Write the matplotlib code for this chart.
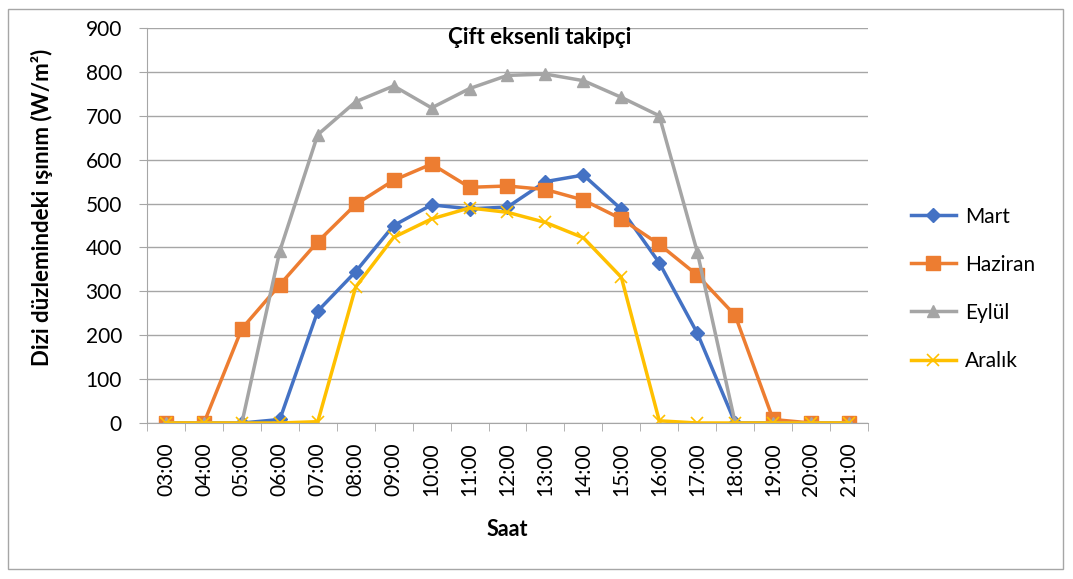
import numpy as np
import matplotlib.pyplot as plt
from matplotlib.patches import Rectangle

saatler = ['03:00', '04:00', '05:00', '06:00', '07:00', '08:00', '09:00', '10:00', '11:00', '12:00',
           '13:00', '14:00', '15:00', '16:00', '17:00', '18:00', '19:00', '20:00', '21:00']
mart = [0, 0, 0, 8, 255, 345, 450, 497, 488, 492, 550, 565, 487, 365, 205, 0, 0, 0, 0]
haziran = [0, 0, 215, 315, 413, 498, 553, 590, 537, 540, 532, 508, 465, 407, 337, 245, 8, 0, 0]
eylul = [0, 0, 0, 392, 657, 732, 768, 718, 762, 792, 795, 780, 742, 700, 390, 0, 0, 0, 0]
aralik = [0, 0, 0, 0, 3, 310, 423, 465, 490, 480, 457, 422, 332, 5, 0, 0, 0, 0, 0]

plt.rcParams['font.family'] = ['Lato', 'DejaVu Sans']

fig = plt.figure(figsize=(10.73, 5.79), dpi=100)
ax = fig.add_axes([147/1073, 1-423/579, (868-147)/1073, (423-28)/579])

x = np.arange(len(saatler))
ax.plot(x, mart, color='#4472C4', lw=2.5, marker='D', ms=7, label='Mart')
ax.plot(x, haziran, color='#ED7D31', lw=2.5, marker='s', ms=10, label='Haziran')
ax.plot(x, eylul, color='#A5A5A5', lw=2.5, marker='^', ms=9, label='Eylül')
ax.plot(x, aralik, color='#FFC000', lw=2.5, marker='x', ms=9, mew=1.2, label='Aralık')

ax.set_xlim(-0.5, len(saatler) - 0.5)
ax.set_ylim(0, 900)
ax.set_yticks(np.arange(0, 901, 100))
ax.set_xticks(x)
ax.set_xticklabels(saatler, rotation=90, fontsize=15)
ax.set_xticks(np.arange(-0.5, len(saatler)), minor=True)
ax.tick_params(axis='x', which='major', length=0, pad=14)
ax.tick_params(axis='x', which='minor', length=6, color='#A6A6A6')
ax.tick_params(axis='y', length=6, color='#A6A6A6', labelsize=15, pad=12)
ax.grid(axis='y', color='#A6A6A6', lw=1)
ax.set_axisbelow(True)
for s in ['top', 'right']:
    ax.spines[s].set_visible(False)
ax.spines['left'].set_color('#A6A6A6')
ax.spines['bottom'].set_color('#A6A6A6')

ax.set_xlabel('Saat', fontsize=15.5, fontweight='bold')
ax.xaxis.set_label_coords(0.5, -0.243)
ax.set_ylabel('Dizi düzlemindeki ışınım (W/m²)', fontsize=16, fontweight='bold')
ax.yaxis.set_label_coords(-0.130, 0.547)
ax.text(0.545, 0.977, 'Çift eksenli takipçi', transform=ax.transAxes, ha='center', va='center',
        fontsize=16, fontweight='bold')

ax.legend(loc='center left', bbox_to_anchor=(1.033, 0.34), frameon=False, fontsize=15,
          handlelength=2.2, labelspacing=1.35, handletextpad=0.4)

fig.patches.append(Rectangle((8/1073, 10/579), 1055/1073, 560/579, transform=fig.transFigure,
                             fill=False, edgecolor='#A6A6A6', lw=1))

fig.savefig('out.png', dpi=100)
